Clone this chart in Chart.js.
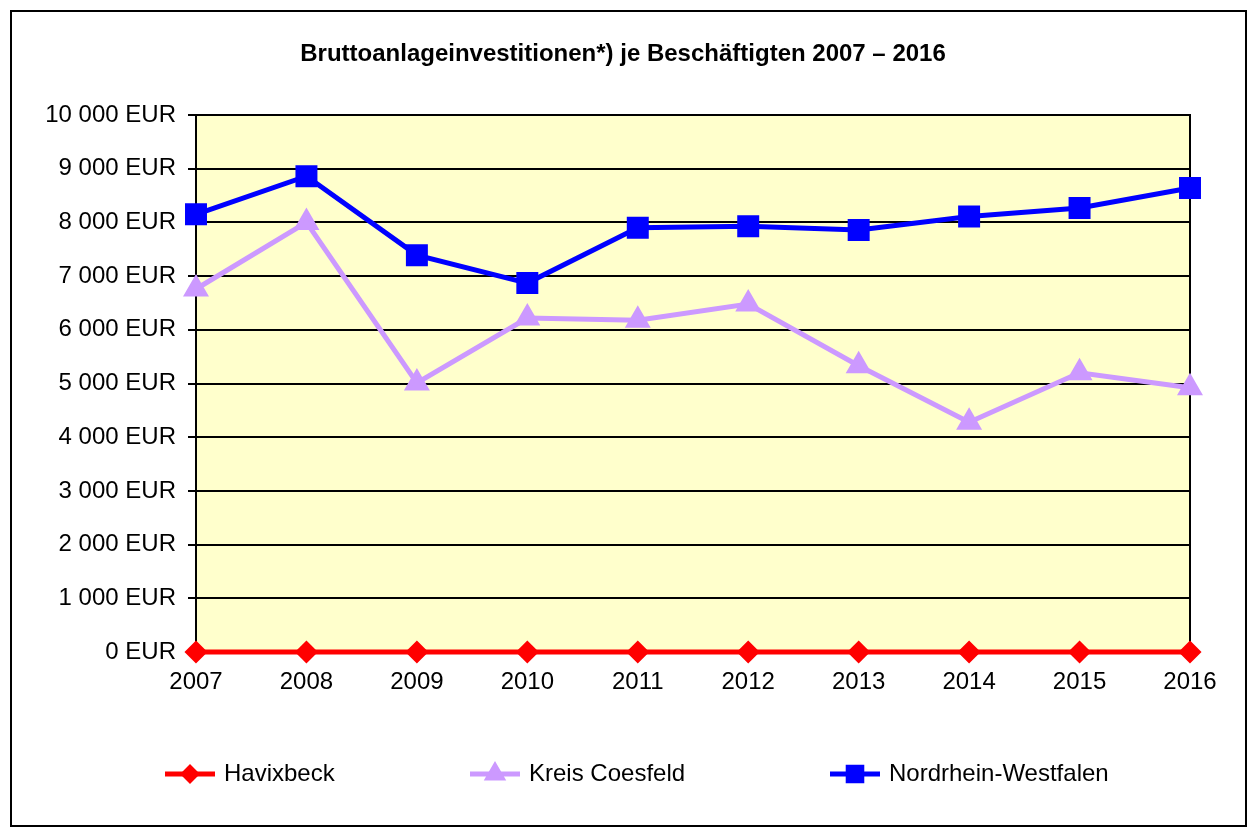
<!DOCTYPE html>
<html>
<head>
<meta charset="utf-8">
<script src="https://cdn.jsdelivr.net/npm/chart.js@4"></script>
<style>
  html, body { margin: 0; padding: 0; background: #fff; }
  #wrap { position: relative; width: 1252px; height: 827px; }
  #frame { position: absolute; left: 10px; top: 10px; width: 1233px; height: 813px; border: 2px solid #000; pointer-events: none; }
</style>
</head>
<body>
<div id="wrap">
  <canvas id="chart" width="1252" height="827"></canvas>
  <div id="frame"></div>
</div>
<script>
// Daten
const years = ["2007", "2008", "2009", "2010", "2011", "2012", "2013", "2014", "2015", "2016"];
const havixbeck = [0, 0, 0, 0, 0, 0, 0, 0, 0, 0];
const kreisCoesfeld = [6760, 8000, 5010, 6220, 6180, 6480, 5330, 4280, 5200, 4920];
const nrw = [8150, 8860, 7390, 6870, 7900, 7930, 7860, 8110, 8270, 8640];
const yTicks = [0, 1000, 2000, 3000, 4000, 5000, 6000, 7000, 8000, 9000, 10000];

const chartTitle = "Bruttoanlageinvestitionen*) je Beschäftigten 2007 \u2013 2016";
const font = "Liberation Sans, Arial, sans-serif";

// Zahlen im Format "10 000 EUR"
const fmtEur = (v) => String(v).replace(/\B(?=(\d{3})+(?!\d))/g, " ") + " EUR";

// Hintergrund, Rahmen, Titel und Legende
const decor = {
  id: "decor",
  beforeDraw(chart) {
    const { ctx, chartArea: a } = chart;
    ctx.save();
    ctx.fillStyle = "#FFFFCC";
    ctx.fillRect(a.left, a.top, a.right - a.left, a.bottom - a.top);
    ctx.restore();
  },
  beforeDatasetsDraw(chart) {
    const { ctx, chartArea: a } = chart;
    ctx.save();
    ctx.strokeStyle = "#000";
    ctx.lineWidth = 2;
    ctx.strokeRect(a.left, a.top, a.right - a.left, a.bottom - a.top);
    ctx.restore();
  },
  afterDraw(chart) {
    const ctx = chart.ctx;
    ctx.save();
    ctx.fillStyle = "#000";
    ctx.font = "bold 24px " + font;
    ctx.textAlign = "center";
    ctx.textBaseline = "middle";
    ctx.fillText(chartTitle, 623, 54);

    // Legende
    const legendX = [165, 470, 830];
    const ly = 774;
    chart.data.datasets.forEach((ds, i) => {
      const x0 = legendX[i];
      ctx.strokeStyle = ds.borderColor;
      ctx.lineWidth = ds.borderWidth;
      ctx.beginPath();
      ctx.moveTo(x0, ly);
      ctx.lineTo(x0 + 50, ly);
      ctx.stroke();
      Chart.helpers.drawPoint(ctx, {
        pointStyle: ds.pointStyle,
        radius: ds.pointRadius * 0.8,
        borderWidth: 1
      }, x0 + 25, ly);
      ctx.fillStyle = ds.pointBackgroundColor;
      ctx.strokeStyle = ds.pointBorderColor;
      ctx.fill();
      ctx.fillStyle = "#000";
      ctx.font = "24px " + font;
      ctx.textAlign = "left";
      ctx.fillText(ds.label, x0 + 59, ly);
    });
    ctx.restore();
  }
};

new Chart(document.getElementById("chart"), {
  type: "line",
  data: {
    labels: years,
    datasets: [
      {
        label: "Havixbeck",
        data: havixbeck,
        borderColor: "#FF0000",
        borderWidth: 5,
        pointStyle: "rectRot",
        pointRadius: 8,
        pointBackgroundColor: "#FF0000",
        pointBorderColor: "#FF0000",
        clip: false
      },
      {
        label: "Kreis Coesfeld",
        data: kreisCoesfeld,
        borderColor: "#CC99FF",
        borderWidth: 5,
        pointStyle: "triangle",
        pointRadius: 10,
        pointBackgroundColor: "#CC99FF",
        pointBorderColor: "#CC99FF",
        clip: false
      },
      {
        label: "Nordrhein-Westfalen",
        data: nrw,
        borderColor: "#0000FF",
        borderWidth: 5,
        pointStyle: "rect",
        pointRadius: 12,
        pointBackgroundColor: "#0000FF",
        pointBorderColor: "#0000FF",
        clip: false
      }
    ]
  },
  options: {
    responsive: false,
    animation: false,
    layout: { padding: { left: 0, right: 62, top: 115, bottom: 125 } },
    plugins: {
      legend: { display: false },
      title: { display: false },
      tooltip: { enabled: false }
    },
    scales: {
      x: {
        offset: false,
        grid: { display: false },
        border: { display: false },
        ticks: {
          color: "#000",
          font: { family: font, size: 24 },
          padding: 8,
          maxRotation: 0,
          autoSkip: false
        },
        afterFit(scale) { scale.height = 50; }
      },
      y: {
        min: 0,
        max: 10000,
        afterBuildTicks(scale) { scale.ticks = yTicks.map((v) => ({ value: v })); },
        grid: { color: "#000", lineWidth: 2, tickLength: 8, drawTicks: true },
        border: { display: false },
        ticks: {
          color: "#000",
          font: { family: font, size: 24 },
          padding: 12,
          callback: (v) => fmtEur(v)
        },
        afterFit(scale) { scale.width = 196; }
      }
    }
  },
  plugins: [decor]
});
</script>
</body>
</html>
